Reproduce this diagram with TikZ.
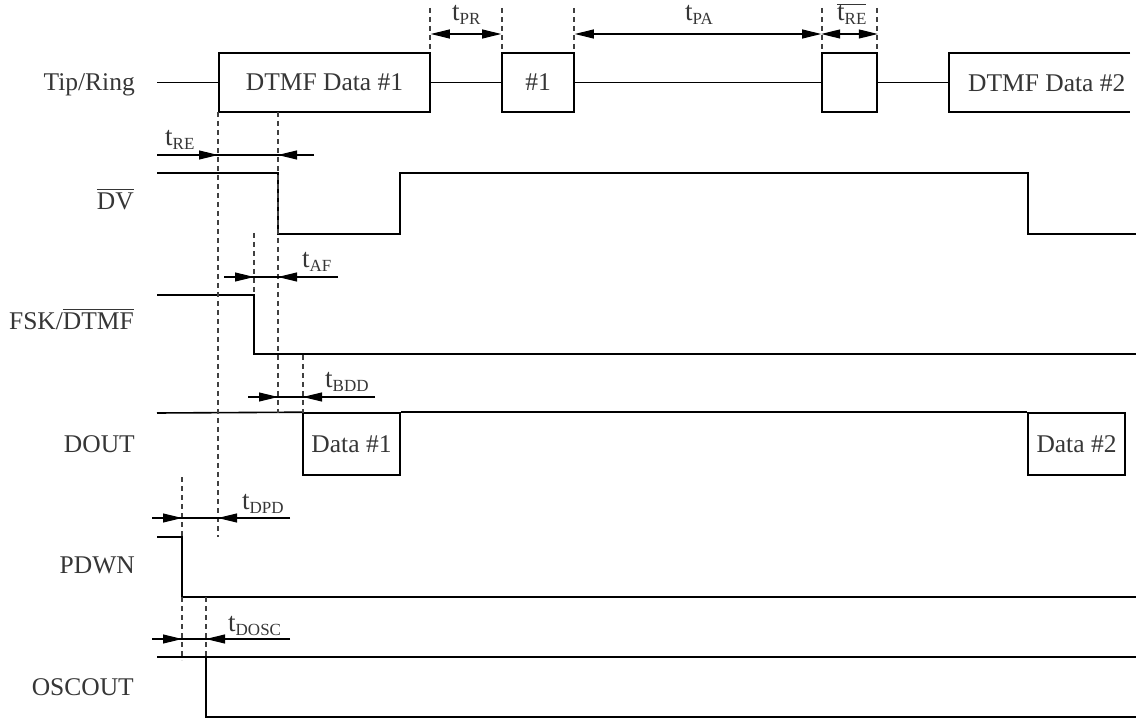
\documentclass[tikz,border=0pt]{standalone}
\usepackage{fontspec}
\setmainfont{Liberation Serif}
\usetikzlibrary{arrows.meta}

\definecolor{labelgray}{HTML}{363636}

% timing label: large t with a small lowered suffix
\newcommand{\tsub}[1]{{\fontsize{27}{30}\selectfont t}\raisebox{-4pt}{\fontsize{17}{17}\selectfont #1}}
% bar over a text
\newcommand{\ovl}[2][3pt]{\setbox0\hbox{#2}\rlap{\raisebox{\dimexpr\ht0+#1\relax}{\rule{\wd0}{1.2pt}}}\box0}

\tikzset{
  wave/.style={line width=1.6pt},
  guide/.style={line width=1.1pt, dash pattern=on 5pt off 4pt, black!75},
  dimline/.style={line width=1.1pt},
  signame/.style={anchor=base east, inner sep=0pt, text=labelgray},
  tlabel/.style={anchor=base west, inner sep=0pt, text=labelgray},
  databox/.style={draw, line width=1.6pt, inner sep=0pt, text=labelgray}
}

\begin{document}
\begin{tikzpicture}[x=1pt, y=-1pt, >={Triangle[length=19pt,width=9pt]},
  font=\fontsize{25.5}{30}\selectfont]
\useasboundingbox (0,0) rectangle (1136,719);

% Signal names
\node[signame] (ntr) at (135,91) {Tip/Ring};
\node[signame] (ndv) at (134,210) {\ovl{DV}};
\node[signame] (nfsk) at (134,330) {FSK/\ovl{DTMF}};
\node[signame] (ndout) at (135,453) {DOUT};
\node[signame] (npdwn) at (135,573) {PDWN};
\node[signame] (nosc) at (134,695) {OSCOUT};

% Construct Tip/Ring bursts
\node[databox, minimum width=211pt, minimum height=59pt] (d1) at (324.5,82.5) {DTMF Data \#1};
\node[databox, minimum width=72pt, minimum height=59pt] (p1) at (538,82.5) {\#1};
\node[databox, minimum width=55pt, minimum height=59pt] (p2) at (849.5,82.5) {};
\coordinate (trstart) at (157,82.5);
\coordinate (d2w) at (949,82.5);
\draw[wave] (trstart) -- (d1.west);
\draw[wave] (d1.east) -- (p1.west);
\draw[wave] (p1.east) -- (p2.west);
\draw[wave] (p2.east) -- (d2w);
\draw[wave] (1130,53) -- (949,53) -- (949,112) -- (1130,112);
\node[tlabel] (d2) at (968,92) {DTMF Data \#2};

% Construct DV, FSK/DTMF, PDWN and OSCOUT levels
\draw[wave] (157,173) -- (278,173) -- (278,234) -- (400,234) -- (400,173)
  -- (1028,173) -- (1028,234) -- (1136,234);
\draw[wave] (157,295) -- (254,295) -- (254,354) -- (1136,354);
\draw[wave] (157,537) -- (182,537) -- (182,597) -- (1136,597);
\draw[wave] (157,657) -- (1136,657);
\draw[wave] (206,657) -- (206,717) -- (1136,717);

% Construct DOUT with its data words
\node[databox, minimum width=97pt, minimum height=62pt] (o1) at (351.5,444) {Data \#1};
\node[databox, minimum width=97pt, minimum height=62pt] (o2) at (1076.5,444) {Data \#2};
\coordinate (dstart) at (157,413);
\draw[wave] (dstart) -- (o1.north west);
\draw[wave] (o1.north east) -- (o2.north west);

% Dashed reference lines
\draw[guide] (218,112) -- (218,537);
\draw[guide] (278,112) -- (278,413);
\draw[guide] (254,233) -- (254,295);
\draw[guide] (303,355) -- (303,413);
\draw[guide] (182,477) -- (182,537);
\draw[guide] (182,597) -- (182,660);
\draw[guide] (206,597) -- (206,657);
\foreach \x in {430,502,574,822,877}
  \draw[guide] (\x,8) -- (\x,50);

% Timing intervals on top
\draw[dimline,<->] (d1.east |- 0,34) coordinate (pra) -- (p1.west |- 0,34) coordinate (prb);
\node[tlabel] (tpr) at (452,21) {\tsub{PR}};
\draw[dimline,<->] (p1.east |- 0,34) coordinate (paa) -- (p2.west |- 0,34) coordinate (pab);
\node[tlabel] (tpa) at (685,21) {\tsub{PA}};
\draw[dimline,<->] (pab) -- (p2.east |- 0,34) coordinate (reb);
\node[tlabel] (tre) at (837,21) {\ovl[1pt]{\tsub{RE}}};

% tRE
\coordinate (rel) at (157,155);
\coordinate (rer) at (314,155);
\draw[dimline] (rel) -- (rer);
\draw[dimline,->] (rel) -- (218,155);
\draw[dimline,->] (rer) -- (278,155);
\node[tlabel] (tre2) at (165,146) {\tsub{RE}};

% tAF
\coordinate (afl) at (224,277);
\coordinate (afr) at (338,277);
\draw[dimline] (afl) -- (afr);
\draw[dimline,->] (afl) -- (254,277);
\draw[dimline,->] (afr) -- (278,277);
\node[tlabel] (taf) at (302,268) {\tsub{AF}};

% tBDD
\coordinate (bddl) at (248,397);
\coordinate (bddr) at (375,397);
\draw[dimline] (bddl) -- (bddr);
\draw[dimline,->] (bddl) -- (278,397);
\draw[dimline,->] (bddr) -- (303,397);
\node[tlabel] (tbdd) at (325,388) {\tsub{BDD}};

% tDPD
\coordinate (dpdl) at (152,518);
\coordinate (dpdr) at (290,518);
\draw[dimline] (dpdl) -- (dpdr);
\draw[dimline,->] (dpdl) -- (182,518);
\draw[dimline,->] (dpdr) -- (218,518);
\node[tlabel] (tdpd) at (242,509) {\tsub{DPD}};

% tDOSC
\coordinate (oscl) at (152,639);
\coordinate (oscr) at (290,639);
\draw[dimline] (oscl) -- (oscr);
\draw[dimline,->] (oscl) -- (182,639);
\draw[dimline,->] (oscr) -- (206,639);
\node[tlabel] (tdosc) at (228,631) {\tsub{DOSC}};
\end{tikzpicture}
\end{document}
